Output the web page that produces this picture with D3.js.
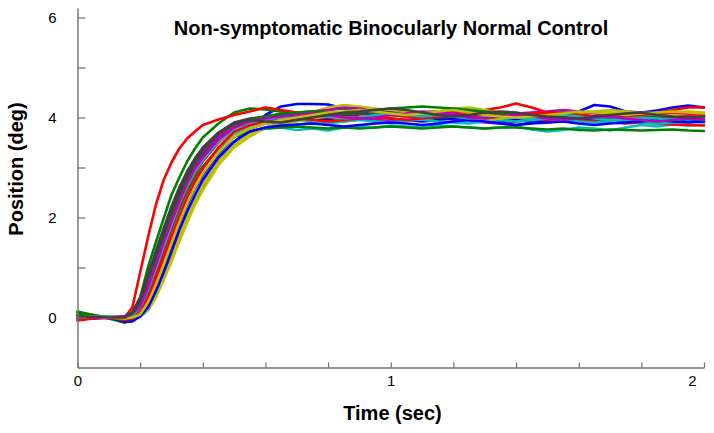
<!DOCTYPE html>
<html>
<head>
<meta charset="utf-8">
<script src="https://cdn.jsdelivr.net/npm/d3@7"></script>
<style>
  html, body { margin: 0; padding: 0; background: #fff; }
  svg { display: block; font-family: Arial, "Liberation Sans", sans-serif; }
</style>
</head>
<body>
<svg id="chart" width="714" height="433"></svg>
<script>
// ---- Data ----
const title = "Non-symptomatic Binocularly Normal Control";
const xLabel = "Time (sec)";
const yLabel = "Position (deg)";
const xTicks = [0, 0.2, 0.4, 0.6, 0.8, 1.0, 1.2, 1.4, 1.6, 1.8, 2.0];
const xTickLabels = [0, 1, 2];
const yTicks = [0, 1, 2, 3, 4, 5, 6];
const yTickLabels = [0, 2, 4, 6];
const colors = ["#0000ff", "#008000", "#ff0000", "#00bfbf", "#bf00bf", "#bfbf00", "#404040"];

// sample times (sec)
const time = [0, 0.05, 0.1, 0.15, 0.175, 0.2, 0.225, 0.25, 0.275, 0.3, 0.325, 0.35, 0.375, 0.4,
  0.45, 0.5, 0.55, 0.6, 0.65, 0.7, 0.75, 0.8, 0.85, 0.9, 0.95, 1.0, 1.05, 1.1, 1.15, 1.2, 1.25,
  1.3, 1.35, 1.4, 1.45, 1.5, 1.55, 1.6, 1.65, 1.7, 1.75, 1.8, 1.85, 1.9, 1.95, 2.0];

// eye position traces (deg)
const trace01 = [0.02,0.0,0.0,-0.06,-0.05,0.02,0.15,0.42,0.78,1.2,1.6,1.95,2.28,2.58, 3.1,3.5,3.8,4.05,4.22,4.27, 4.27,4.26,4.18,4.12,4.1,4.08,4.1,4.05,4.08,4.1,4.06,4.04,4.08,4.05,4.0,4.03,4.06,4.12,4.25,4.22,4.12,4.1,4.14,4.2,4.24,4.2];
const trace02 = [0.12,0.05,0.0,-0.08,0.08,0.4,1.0,1.5,1.98,2.45,2.8,3.12,3.38,3.6, 3.88,4.1, 4.18,4.16,4.12,4.1,4.12,4.15,4.18,4.14,4.1,4.08,4.05,4.1,4.12,4.08,4.05,4.0,3.98,4.02,4.05,4.02,3.98,3.95,3.97,4.0,3.95,3.92,3.95,3.98,3.95,3.94];
const trace03 = [-0.04,-0.02,0.02,0.0,0.2,0.9,1.6,2.25,2.75,3.1,3.38,3.58,3.72,3.85, 3.96,4.05,4.12,4.2,4.15,4.1,4.08,4.06,4.1,4.08,4.05,4.06,4.08,4.1,4.12,4.1,4.12,4.15,4.2,4.28,4.2,4.1,4.08,4.06,4.1,4.05,4.02,4.05,4.1,4.15,4.2,4.2];
const trace04 = [-0.02,0.02,0.0,-0.03,0.02,0.12,0.42,0.8,1.22,1.68,2.1,2.45,2.75,3.0, 3.38, 3.62,3.72,3.78,3.8,3.75,3.78,3.74,3.8,3.82,3.8,3.84,3.82,3.8,3.85,3.82,3.8,3.78,3.8,3.82,3.76,3.72,3.75,3.8,3.78,3.74,3.8,3.85,3.82,3.86,3.84,3.85];
const trace05 = [0.0,0.03,0.0,0.0,0.05,0.3,0.75,1.2,1.6,1.98,2.35,2.68,2.98,3.22, 3.58, 3.8,3.9,3.95,3.98,4.0,3.96,3.98,4.02,4.0,3.96,3.92,3.95,3.98,4.0,3.96,3.94,3.9,3.88,3.92,3.95,3.98,4.02,4.0,3.96,3.98,4.0,4.02,3.98,3.95,3.98,4.0];
const trace06 = [0.0,-0.02,0.02,-0.02,-0.02,0.03,0.15,0.4,0.75,1.12,1.52,1.9,2.25,2.55, 3.05,3.4,3.62, 3.8,3.9,3.98,4.1,4.2,4.25,4.22,4.18,4.15,4.12,4.1,4.12,4.18,4.2,4.15,4.1,4.05,4.08,4.1,4.12,4.1,4.12,4.15,4.12,4.1,4.08,4.1,4.12,4.1];
const trace07 = [0.05,0.02,0.0,0.02,0.08,0.35,0.78,1.22,1.65,2.08,2.45,2.78,3.05,3.28, 3.62, 3.86,3.95,3.98,4.02,4.05,4.0,3.98,4.02,4.06,4.08,4.05,4.02,4.0,3.98,4.02,4.05,3.95,3.88,3.85,3.9,3.95,4.0,3.98,3.95,3.98,4.02,4.05,4.0,3.98,4.0,4.02];
const trace08 = [-0.03,0.0,0.0,-0.1,-0.06,0.05,0.28,0.62,1.02,1.45,1.88,2.25,2.58,2.85, 3.28, 3.62,3.78,3.88,3.92,3.95,3.98,3.95,3.92,3.96,4.0,3.98,3.95,3.92,3.95,3.98,4.0,3.96,3.93,3.95,3.92,3.9,3.94,3.96,3.98,3.95,3.92,3.9,3.93,3.96,3.95,3.92];
const trace09 = [0.1,0.05,-0.02,-0.1,-0.05,0.12,0.45,0.85,1.3,1.75,2.15,2.5,2.8,3.02, 3.38, 3.62,3.72,3.78,3.8,3.82,3.8,3.78,3.8,3.78,3.8,3.82,3.8,3.78,3.8,3.82,3.8,3.78,3.8,3.8,3.78,3.76,3.78,3.75,3.74,3.76,3.75,3.74,3.75,3.76,3.74,3.73];
const trace10 = [0.0,0.0,0.0,-0.05,0.02,0.18,0.52,0.92,1.35,1.8,2.22,2.58,2.88,3.12, 3.5, 3.8,3.92,3.98,4.02,4.05,4.02,4.0,3.98,4.0,4.02,4.05,4.02,4.0,4.02,4.05,4.08,4.05,4.02,4.0,3.98,3.95,3.92,3.95,3.92,3.9,3.88,3.9,3.88,3.86,3.85,3.84];
const trace11 = [-0.05,0.0,0.02,-0.02,0.0,0.1,0.38,0.75,1.18,1.62,2.05,2.42,2.72,2.98, 3.38, 3.68,3.82,3.88,3.92,3.95,3.9,3.88,3.92,3.95,3.92,3.9,3.94,3.96,3.92,3.9,3.88,3.92,3.95,3.92,3.95,3.98,3.95,3.92,3.9,3.92,3.95,3.9,3.88,3.9,3.92,3.9];
const trace12 = [0.0,0.0,-0.02,0.02,0.1,0.38,0.82,1.28,1.72,2.15,2.52,2.85,3.1,3.32, 3.64, 3.85,3.95,4.02,4.05,4.08,4.12,4.15,4.2,4.18,4.12,4.1,4.08,4.05,4.08,4.1,4.12,4.08,4.05,4.08,4.1,4.12,4.15,4.12,4.08,4.06,4.08,4.1,4.05,4.02,4.05,4.06];
const trace13 = [0.03,0.0,0.0,0.0,0.0,0.04,0.18,0.45,0.82,1.22,1.62,2.0,2.35,2.65, 3.12,3.45, 3.68,3.8,3.88,3.92,3.98,4.02,4.0,3.98,4.02,4.05,4.1,4.08,4.05,4.02,4.0,3.95,3.98,4.02,4.05,4.08,4.05,4.1,4.12,4.1,4.08,4.05,4.02,4.05,4.08,4.05];
const trace14 = [0.02,0.03,0.0,0.02,0.1,0.4,0.85,1.32,1.78,2.22,2.6,2.92,3.18,3.4, 3.7, 3.9,3.98,4.02,4.05,4.08,4.05,4.02,4.05,4.1,4.12,4.1,4.05,4.02,4.0,4.02,4.05,4.08,4.05,4.02,4.0,4.02,4.05,4.02,4.0,3.98,4.0,4.02,4.0,3.98,4.0,4.0];
const trace15 = [0.0,-0.02,0.0,-0.08,-0.08,0.02,0.2,0.52,0.9,1.32,1.75,2.12,2.45,2.75, 3.2,3.52, 3.72,3.8,3.84,3.86,3.88,3.85,3.82,3.85,3.88,3.9,3.88,3.85,3.88,3.92,3.95,3.92,3.88,3.85,3.88,3.9,3.92,3.88,3.85,3.88,3.9,3.92,3.95,3.92,3.9,3.92];
const trace16 = [0.05,0.02,0.0,-0.05,0.05,0.25,0.62,1.08,1.52,1.95,2.35,2.7,2.98,3.2, 3.55, 3.82,3.95,4.02,4.08,4.1,4.12,4.1,4.08,4.12,4.15,4.18,4.2,4.22,4.2,4.18,4.15,4.12,4.1,4.08,4.05,4.08,4.1,4.05,4.02,4.0,3.98,3.95,3.92,3.95,3.98,3.95];
const trace17 = [-0.06,-0.02,0.0,-0.05,-0.02,0.1,0.4,0.78,1.2,1.62,2.02,2.4,2.72,2.98, 3.4, 3.72,3.85,3.92,3.95,3.98,3.95,3.92,3.95,3.98,4.0,3.98,3.95,3.98,4.02,4.05,4.02,4.0,4.02,4.05,4.08,4.1,4.08,4.05,4.02,4.0,4.02,4.05,4.08,4.1,4.08,4.05];
const trace18 = [0.0,0.02,0.0,0.0,0.05,0.2,0.55,0.98,1.42,1.85,2.28,2.62,2.92,3.15, 3.52, 3.78,3.9,3.96,4.0,4.02,4.05,4.02,3.98,4.0,4.05,4.08,4.05,4.02,4.05,4.02,3.98,4.0,4.02,4.0,3.98,4.02,4.05,4.02,3.98,3.95,3.98,4.0,3.98,3.96,3.98,4.0];
const trace19 = [0.02,0.0,0.0,0.02,0.08,0.22,0.6,1.05,1.5,1.92,2.32,2.68,2.98,3.2, 3.56, 3.8,3.92,3.98,4.02,4.05,4.08,4.05,4.0,3.98,4.0,4.05,4.08,4.12,4.1,4.05,4.0,3.98,4.02,4.05,4.02,3.98,3.95,3.98,4.0,4.02,3.98,3.95,3.92,3.95,3.98,3.96];
const trace20 = [0.0,0.02,0.0,-0.02,0.0,0.06,0.3,0.65,1.05,1.48,1.9,2.28,2.6,2.88, 3.3, 3.62,3.78,3.88,3.95,4.0,4.05,4.1,4.12,4.15,4.12,4.08,4.05,4.08,4.12,4.15,4.1,4.05,4.02,4.0,4.02,4.05,4.08,4.12,4.1,4.08,4.05,4.08,4.1,4.12,4.1,4.08];
const trace21 = [0.0,0.02,0.0,0.0,0.08,0.35,0.8,1.25,1.7,2.12,2.5,2.85,3.12,3.35, 3.68, 3.88,3.95,3.92,3.9,3.95,4.0,4.05,4.1,4.12,4.15,4.18,4.15,4.1,4.05,4.02,4.05,4.1,4.12,4.1,4.05,4.02,4.0,3.98,4.02,4.05,4.08,4.1,4.05,4.02,4.0,4.02];

const traces = [trace01, trace02, trace03, trace04, trace05, trace06, trace07, trace08, trace09, trace10,
  trace11, trace12, trace13, trace14, trace15, trace16, trace17, trace18, trace19, trace20, trace21];

// ---- Chart ----
const svg = d3.select("#chart");
const x = d3.scaleLinear().domain([0, 2]).range([77.5, 704]);
const y = d3.scaleLinear().domain([-1, 6.19]).range([367.5, 8]);

const axisColor = "#707070";

// traces
const line = d3.line()
  .x((d, i) => x(time[i]))
  .y(d => y(d))
  .curve(d3.curveLinear);

svg.append("g").selectAll("path")
  .data(traces)
  .join("path")
  .attr("d", d => line(d))
  .attr("fill", "none")
  .attr("stroke", (d, i) => colors[i % colors.length])
  .attr("stroke-width", 2.6)
  .attr("stroke-linejoin", "round")
  .attr("stroke-linecap", "round");

// y axis
const yAxis = d3.axisLeft(y)
  .tickValues(yTicks)
  .tickSize(-8)
  .tickSizeOuter(0)
  .tickPadding(21)
  .tickFormat(d => yTickLabels.includes(d) ? String(d) : "");
const gy = svg.append("g").attr("transform", `translate(${x(0)},0)`).call(yAxis);

// x axis
const xAxis = d3.axisBottom(x)
  .tickValues(xTicks)
  .tickSize(-5)
  .tickSizeOuter(0)
  .tickPadding(8)
  .tickFormat(d => xTickLabels.includes(d) ? String(d) : "");
const gx = svg.append("g").attr("transform", `translate(0,${y(-1)})`).call(xAxis);
gx.selectAll(".tick text").filter(d => d === 2).attr("dx", -12);

[gx, gy].forEach(g => {
  g.selectAll(".domain").attr("stroke", axisColor).attr("stroke-width", 1.4);
  g.selectAll(".tick line").attr("stroke", axisColor).attr("stroke-width", 1.2);
  g.selectAll(".tick text")
    .attr("fill", "#000")
    .style("font-family", "Arial, 'Liberation Sans', sans-serif")
    .style("font-size", "15px");
});

// title
svg.append("text")
  .attr("x", 391)
  .attr("y", 35)
  .attr("text-anchor", "middle")
  .style("font-size", "20px")
  .style("font-weight", "bold")
  .text(title);

// x label
svg.append("text")
  .attr("x", 392.5)
  .attr("y", 420)
  .attr("text-anchor", "middle")
  .style("font-size", "20px")
  .style("font-weight", "bold")
  .text(xLabel);

// y label
svg.append("text")
  .attr("transform", "translate(23,169) rotate(-90)")
  .attr("text-anchor", "middle")
  .style("font-size", "20px")
  .style("font-weight", "bold")
  .text(yLabel);
</script>
</body>
</html>
